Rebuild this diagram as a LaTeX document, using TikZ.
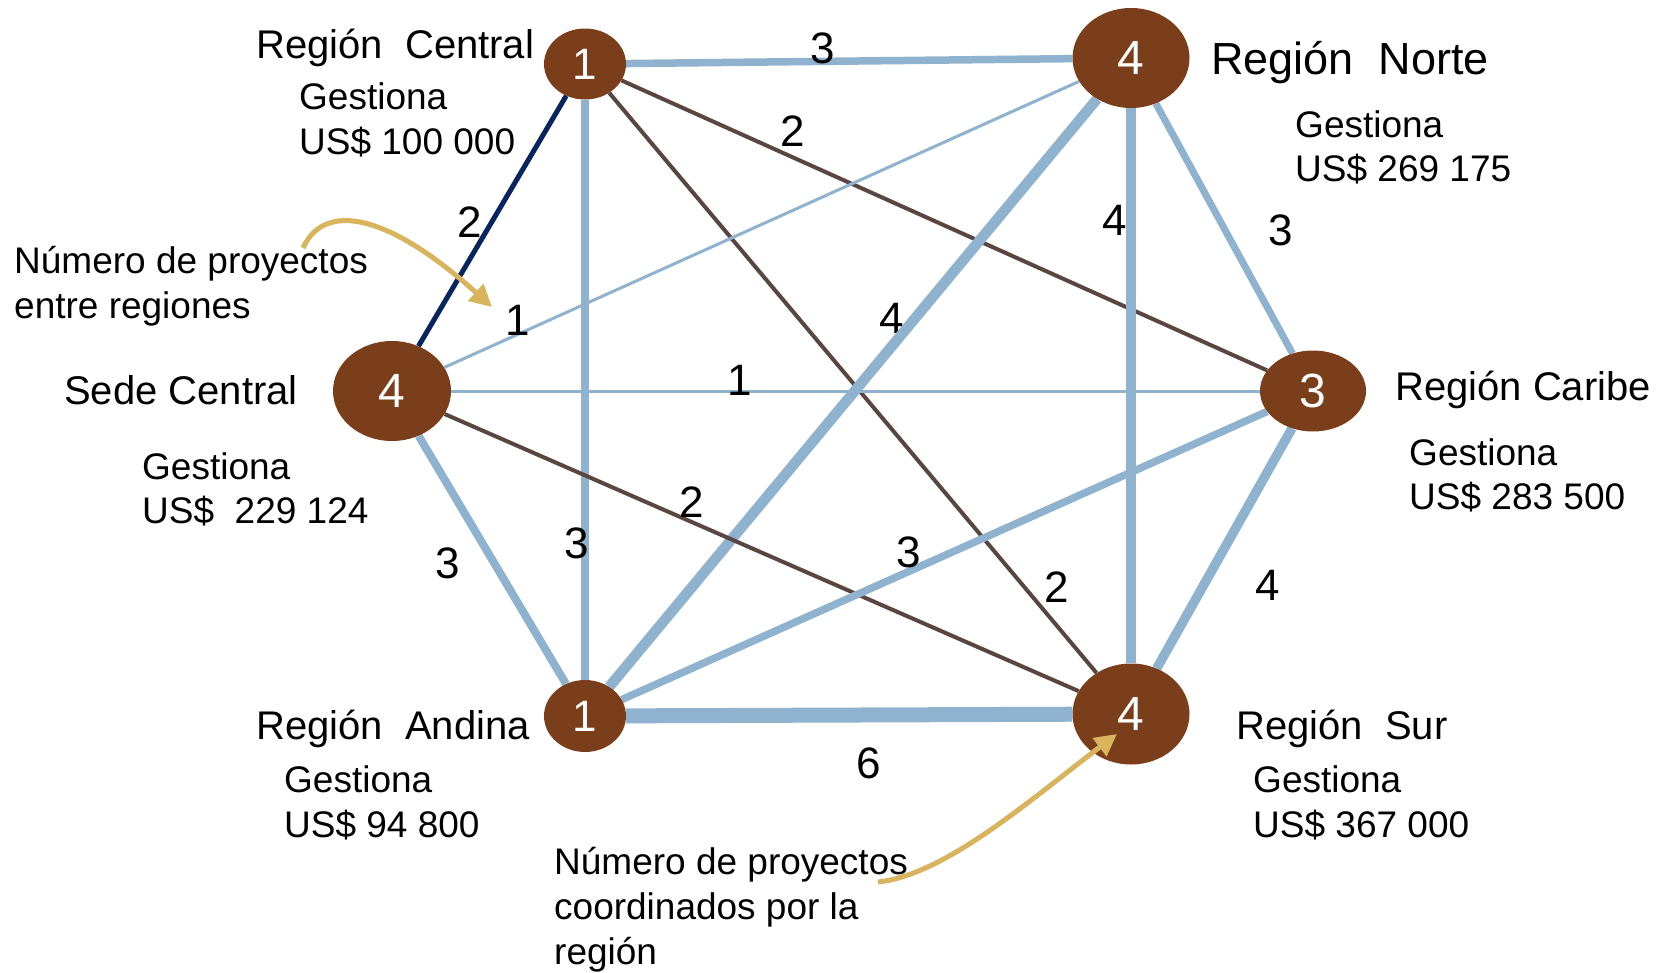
\documentclass[tikz,border=0pt]{standalone}
\usepackage{fontspec}
\setmainfont{Liberation Sans}
\usetikzlibrary{arrows.meta,shapes.geometric,backgrounds}
\definecolor{nodebrown}{RGB}{122,62,26}
\definecolor{edgeblue}{RGB}{143,178,207}
\definecolor{edgebrown}{RGB}{90,70,64}
\definecolor{edgenavy}{RGB}{10,36,96}
\definecolor{arrowgold}{RGB}{216,180,92}
\begin{document}
\begin{tikzpicture}[x=1pt,y=-1pt,
  region/.style={ellipse, fill=nodebrown, text=white, inner sep=0pt},
  bignum/.style={font=\fontsize{48}{48}\selectfont},
  smallnum/.style={font=\fontsize{44}{44}\selectfont},
  lbl/.style={anchor=base west, inner sep=0pt, font=\fontsize{40}{48}\selectfont},
  biglbl/.style={anchor=base west, inner sep=0pt, font=\fontsize{45}{54}\selectfont},
  info/.style={anchor=base west, inner sep=0pt, font=\fontsize{37}{44}\selectfont},
  elabel/.style={inner sep=0pt, font=\fontsize{44}{44}\selectfont},
  blue/.style={draw=edgeblue},
  brown/.style={draw=edgebrown, line width=4pt},
  navy/.style={draw=edgenavy, line width=5pt},
  callout/.style={draw=arrowgold, line width=5pt, -{Triangle[length=22pt,width=22pt]}}
]
\useasboundingbox (0,0) rectangle (1662,972);

% nodes
\node[region, smallnum, minimum width=82pt, minimum height=71pt] (c) at (585,64) {1};
\node[region, bignum, minimum width=117pt, minimum height=100pt] (n) at (1131,58) {4};
\node[region, bignum, minimum width=118pt, minimum height=100pt] (s) at (392,391) {4};
\node[region, bignum, minimum width=106pt, minimum height=81pt] (k) at (1313,391) {3};
\node[region, smallnum, minimum width=82pt, minimum height=72pt] (a) at (585,716) {1};
\node[region, bignum, minimum width=117pt, minimum height=101pt] (u) at (1131,714) {4};

\begin{scope}[on background layer]
  \fill[white] (0,0) rectangle (1662,972);
  \node[elabel] (lan) at (892,318) {4};
  \draw[blue, line width=7.5pt] (c) -- (n);
  \draw[navy] (c) -- (s);
  \draw[blue, line width=7.5pt] (c) -- (a);
  \draw[brown] (c) -- (k);
  \draw[brown] (c) -- (u);
  \draw[blue, line width=3pt] (n) -- (s);
  \draw[blue, line width=10.5pt] (n) -- (a);
  \draw[blue, line width=10.5pt] (n) -- (u);
  \draw[blue, line width=7pt] (n) -- (k);
  \draw[blue, line width=3pt] (s) -- (k);
  \draw[brown] (s) -- (u);
  \draw[blue, line width=8pt] (s) -- (a);
  \draw[blue, line width=7.5pt] (a) -- (k);
  \draw[blue, line width=15pt] (a) -- (u);
  \draw[blue, line width=9.5pt] (k) -- (u);
\end{scope}

% edge labels
\node[elabel] (lcn) at (823,48) {3};
\node[elabel] (lck) at (793,131) {2};
\node[elabel] (lcs) at (470,222) {2};
\node[elabel] (lnu) at (1115,220) {4};
\node[elabel] (lnk) at (1281,230) {3};
\node[elabel] (lns) at (518,320) {1};
\node[elabel] (lsk) at (740,380) {1};
\node[elabel] (lsu) at (692,502) {2};
\node[elabel] (lsa) at (448,563) {3};
\node[elabel] (lca) at (577,543) {3};
\node[elabel] (lak) at (909,552) {3};
\node[elabel] (lcu) at (1057,587) {2};
\node[elabel] (lku) at (1268,585) {4};
\node[elabel] (lau) at (869,763) {6};

% region texts
\node[lbl] (tc) at (256,58) {Región\ \ Central};
\node[info] (tc1) at (299,109) {Gestiona};
\node[info] (tc2) at (299,154) {US\$ 100 000};

\node[biglbl] (tn) at (1211,74) {Región\ \ Norte};
\node[info] (tn1) at (1295,137) {Gestiona};
\node[info] (tn2) at (1295,181) {US\$ 269 175};

\node[lbl] (ts) at (64,404) {Sede Central};
\node[info] (ts1) at (142,479) {Gestiona};
\node[info] (ts2) at (142,523) {US\$\ \ 229 124};

\node[lbl] (tk) at (1395,400) {Región Caribe};
\node[info] (tk1) at (1409,465) {Gestiona};
\node[info] (tk2) at (1409,509) {US\$ 283 500};

\node[lbl] (ta) at (256,739) {Región\ \ Andina};
\node[info] (ta1) at (284,792) {Gestiona};
\node[info] (ta2) at (284,837) {US\$ 94 800};

\node[lbl] (tu) at (1236,739) {Región\ \ Sur};
\node[info] (tu1) at (1253,792) {Gestiona};
\node[info] (tu2) at (1253,837) {US\$ 367 000};

% callouts
\node[info] (e1) at (14,273) {Número de proyectos};
\node[info] (e2) at (14,318) {entre regiones};
\node[info] (p1) at (554,874) {Número de proyectos};
\node[info] (p2) at (554,919) {coordinados por la};
\node[info] (p3) at (554,964) {región};

\coordinate (a1s) at (303,248);
\coordinate (a1e) at (492,307);
\draw[callout] (a1s) .. controls (325,200) and (390,215) .. (a1e);
\coordinate (a2s) at (878,882);
\coordinate (a2e) at (1117,734);
\draw[callout] (a2s) .. controls (945,875) and (1030,800) .. (a2e);
\end{tikzpicture}
\end{document}
